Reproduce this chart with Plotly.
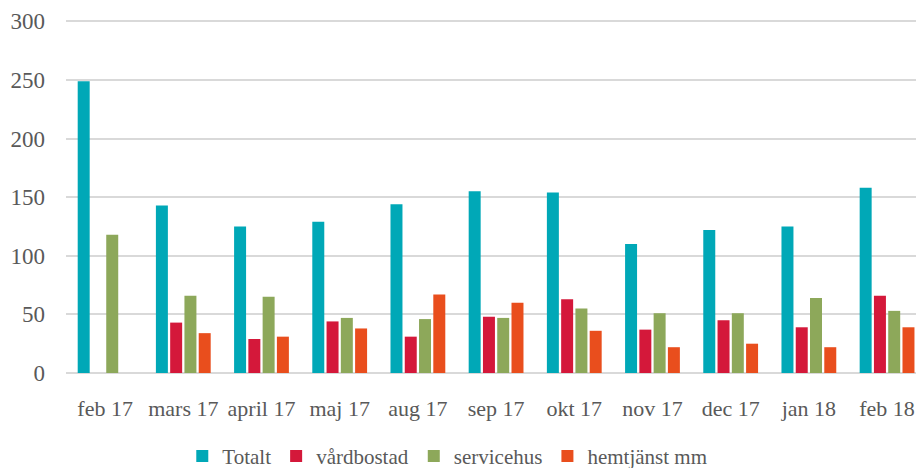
import plotly.graph_objects as go

categories = ["feb 17", "mars 17", "april 17", "maj 17", "aug 17", "sep 17",
              "okt 17", "nov 17", "dec 17", "jan 18", "feb 18"]
totalt = [249, 143, 125, 129, 144, 155, 154, 110, 122, 125, 158]
vardbostad = [None, 43, 29, 44, 31, 48, 63, 37, 45, 39, 66]
servicehus = [118, 66, 65, 47, 46, 47, 55, 51, 51, 64, 53]
hemtjanst = [None, 34, 31, 38, 67, 60, 36, 22, 25, 22, 39]

series = [
    ("Totalt", totalt, "#00A8B7"),
    ("vårdbostad", vardbostad, "#D4183A"),
    ("servicehus", servicehus, "#8DA85A"),
    ("hemtjänst mm", hemtjanst, "#E94E1D"),
]

fig = go.Figure()
for name, vals, col in series:
    fig.add_trace(go.Bar(name=name, x=categories, y=vals, marker_color=col,
                         marker_line_width=0))

font = "Liberation Serif, Times New Roman, serif"
fig.update_layout(
    width=916, height=468,
    barmode="group", bargap=0.27, bargroupgap=0.16,
    plot_bgcolor="white", paper_bgcolor="white",
    margin=dict(l=66, r=0, t=19, b=95),
    font=dict(family=font, color="#595959", size=22),
    xaxis=dict(showgrid=False, showline=False, ticks="", tickfont=dict(size=22),
               ticklabelstandoff=20, automargin=False,
               range=[-0.5, 10.37]),
    yaxis=dict(range=[0, 302], tickvals=[0, 50, 100, 150, 200, 250, 300],
               showgrid=True, gridcolor="#D9D9D9",
               gridwidth=1.5, zeroline=True, zerolinecolor="#D9D9D9",
               zerolinewidth=2, tickfont=dict(size=23), ticks="",
               ticklabelstandoff=20, automargin=False),
    legend=dict(orientation="h", xref="container", yref="container",
                x=0.199, xanchor="left", y=0.025, yanchor="middle",
                font=dict(size=21), itemwidth=30),
    showlegend=True,
)

fig.write_html("out.html", config={"displayModeBar": False},
               post_script="document.body.style.margin='0';document.body.style.overflow='hidden';")
